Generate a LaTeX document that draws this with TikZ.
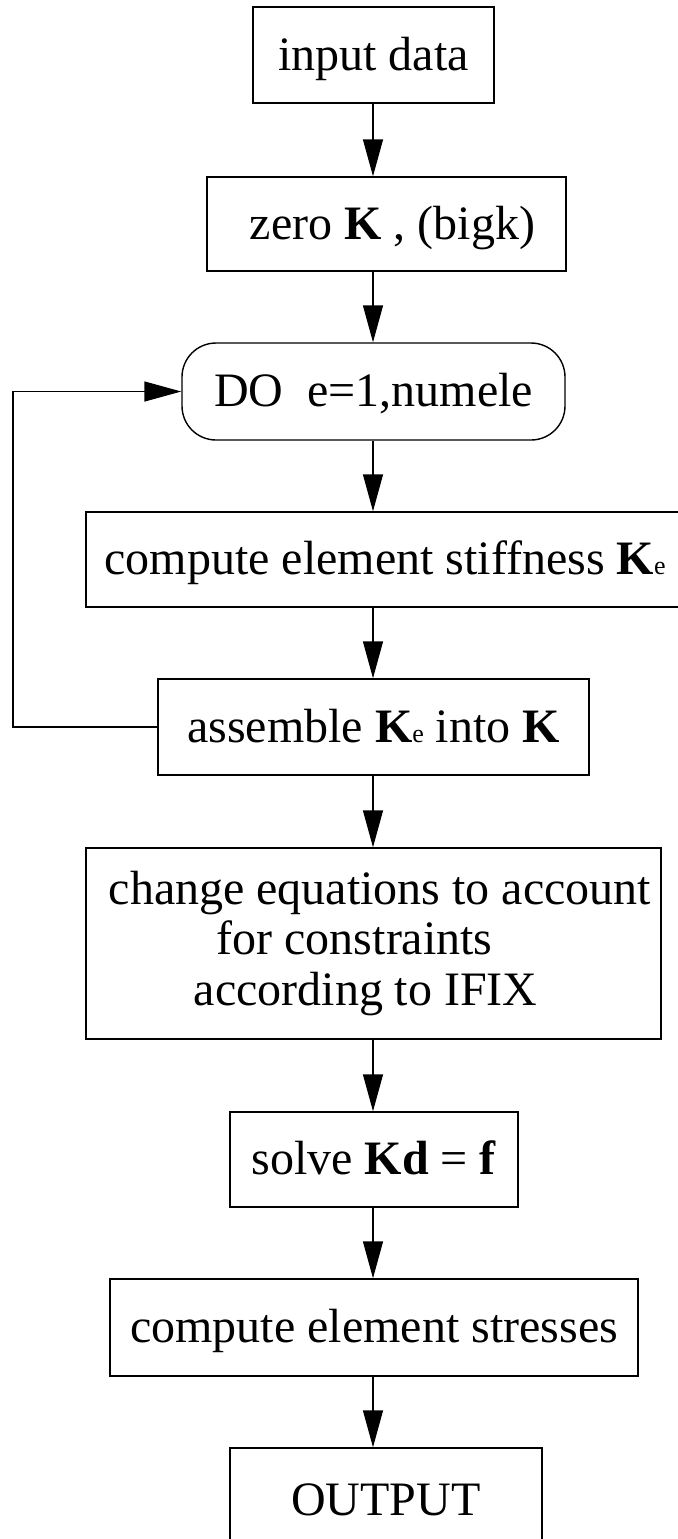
\documentclass[tikz,border=0pt]{standalone}
\usepackage{fontspec}
\setmainfont{Liberation Serif}
\usetikzlibrary{arrows.meta}
\newcommand{\smalle}{{\fontsize{13}{13}\selectfont e}}
\begin{document}
\begin{tikzpicture}[x=0.5pt,y=-0.5pt,
  plainbox/.style={draw, line width=0.7pt, inner sep=0pt, anchor=center,
    font=\fontsize{24}{25.25}\selectfont},
  box/.style={plainbox, text height=17pt, text depth=2pt},
  roundbox/.style={box, rounded corners=17pt},
  link/.style={line width=0.7pt},
  arr/.style={link, -{Triangle[length=18.5pt,width=10pt]}}]
\clip (0,0) rectangle (678,1539);
\coordinate (spine) at (373,0);
\coordinate (loopx) at (13,0);
\node[box, minimum width=120.5pt, minimum height=48pt] (input) at (373.5,55) {input data};
\node[box, minimum width=179.5pt, minimum height=47pt] (zero) at (386.5,224) {\hspace*{6pt}zero \textbf{K} , (bigk)};
\node[roundbox, minimum width=191.5pt, minimum height=48.5pt] (do) at (373.5,391.5) {DO~~e=1,numele};
\node[box, minimum width=299pt, minimum height=47.5pt] (stiff) at (385,559.5) {compute element stiffness \textbf{K}\smalle};
\node[box, minimum width=215.5pt, minimum height=48pt] (assemble) at (373.5,727) {assemble \textbf{K}\smalle{} into \textbf{K}};
\node[plainbox, minimum width=287.5pt, minimum height=95.5pt, align=left] (change) at (373.5,943.5)
  {\hspace*{6.5pt}change equations to account\\\hspace*{60.5pt}for constraints\\\hspace*{49pt}according to IFIX};
\node[box, minimum width=144pt, minimum height=47.5pt] (solve) at (374,1159.5) {solve \textbf{Kd} = \textbf{f}};
\node[box, minimum width=264pt, minimum height=48.5pt] (stress) at (374,1327.5) {compute element stresses};
\node[box, minimum width=156pt, minimum height=52pt] (output) at (386,1500) {OUTPUT};
\draw[arr] (input.south -| spine) -- (zero.north -| spine);
\draw[arr] (zero.south -| spine) -- (do.north -| spine);
\draw[arr] (do.south -| spine) -- (stiff.north -| spine);
\draw[arr] (stiff.south -| spine) -- (assemble.north -| spine);
\draw[arr] (assemble.south -| spine) -- (change.north -| spine);
\draw[arr] (change.south -| spine) -- (solve.north -| spine);
\draw[arr] (solve.south -| spine) -- (stress.north -| spine);
\draw[arr] (stress.south -| spine) -- (output.north -| spine);
\draw[arr] (assemble.west) -- (assemble.west -| loopx) |- (do.west);
\end{tikzpicture}
\end{document}
